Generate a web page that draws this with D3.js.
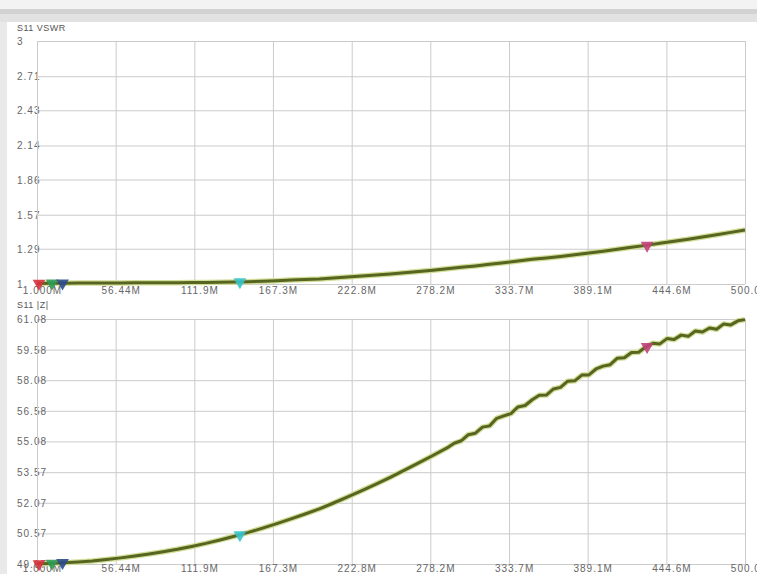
<!DOCTYPE html>
<html><head><meta charset="utf-8">
<script src="https://cdn.jsdelivr.net/npm/d3@7"></script>
<style>
body{margin:0;background:#fff;}
svg{display:block;font-family:"Liberation Sans",Arial,sans-serif;}
.tick text{fill:#666;font-size:10px;letter-spacing:1px;}
.tick line{stroke:#cbcbcb;}
</style></head><body>
<svg id="c" width="757" height="574"></svg>
<script>
// ---- data ----
const xTickVals = [1, 56.44, 111.9, 167.3, 222.8, 278.2, 333.7, 389.1, 444.6, 500];
const xTickLabels = ["1.000M","56.44M","111.9M","167.3M","222.8M","278.2M","333.7M","389.1M","444.6M","500.0M"];
const vswrTicks = [3, 2.71, 2.43, 2.14, 1.86, 1.57, 1.29, 1.0];
const vswrTickLabels = ["3","2.71","2.43","2.14","1.86","1.57","1.29","1"];
const zTicks = [61.08, 59.58, 58.08, 56.58, 55.08, 53.57, 52.07, 50.57, 49.07];
const zTickLabels = ["61.08","59.58","58.08","56.58","55.08","53.57","52.07","50.57","49.07"];

const vswrFreq = [1,10,20,30,40,50,60,70,80,90,100,110,120,130,140,150,160,170,180,190,200,210,220,230,240,250,260,270,280,290,300,310,320,330,340,350,360,370,380,390,400,410,420,430,440,450,460,470,480,490,500];
const vswrVals = [1.005,1.006,1.007,1.008,1.008,1.009,1.009,1.010,1.010,1.010,1.011,1.012,1.013,1.014,1.016,1.018,1.022,1.027,1.032,1.037,1.042,1.050,1.057,1.065,1.074,1.083,1.093,1.103,1.114,1.125,1.137,1.149,1.162,1.175,1.189,1.203,1.214,1.226,1.240,1.255,1.270,1.286,1.302,1.318,1.335,1.352,1.369,1.387,1.405,1.425,1.445];

const zFreq = [1,10,20,30,40,50,60,70,80,90,100,110,120,130,140,150,160,170,180,190,200,210,220,230,240,250,260,270,280,290,295,300,305,310,315,320,325,330,335,340,345,350,355,360,365,370,375,380,385,390,395,400,405,410,415,420,425,430,435,440,445,450,455,460,465,470,475,480,485,490,495,500];
const zVals = [49.08,49.10,49.13,49.17,49.22,49.29,49.37,49.46,49.56,49.67,49.79,49.93,50.08,50.25,50.43,50.62,50.83,51.05,51.28,51.52,51.77,52.06,52.36,52.67,52.99,53.32,53.67,54.03,54.39,54.76,54.99,55.11,55.41,55.48,55.78,55.84,56.21,56.33,56.44,56.77,56.84,57.12,57.34,57.35,57.65,57.73,58.03,58.05,58.33,58.34,58.63,58.77,58.84,59.16,59.18,59.44,59.45,59.71,59.89,59.86,60.12,60.07,60.29,60.23,60.49,60.44,60.64,60.58,60.84,60.79,60.99,61.05];

const markerFreq = [2.4, 11.6, 19, 144, 431];
const markerVswr = [1.005, 1.006, 1.007, 1.017, 1.318];
const markerZ = [49.08, 49.10, 49.13, 50.50, 59.72];
const markerColors = ["#d8303e","#2e9a55","#2b4a8c","#38c4cc","#c2417c"];

// ---- drawing ----
const svg = d3.select("#c");
const W = 757, H = 574;
svg.append("rect").attr("x",0).attr("y",0).attr("width",W).attr("height",9).attr("fill","#f3f3f3");
svg.append("rect").attr("x",0).attr("y",9).attr("width",W).attr("height",5).attr("fill","#d2d2d2");
svg.append("rect").attr("x",0).attr("y",14).attr("width",W).attr("height",8).attr("fill","#e2e2e2");
svg.append("rect").attr("x",0).attr("y",22).attr("width",7).attr("height",H-22).attr("fill","#e9e9e9");

const x = d3.scaleLinear().domain([1,500]).range([37,745]);
const yTop = d3.scaleLinear().domain([1,3]).range([284,41]);
const yBot = d3.scaleLinear().domain([49.07,61.08]).range([564,319]);

function panel(y, ticks, labels, freq, vals, mVals, title, titleY, xLabelPad){
  const r = y.range();
  const h = r[0]-r[1];
  const ya = d3.axisLeft(y).tickValues(ticks).tickSize(-(x.range()[1]-x.range()[0]))
    .tickFormat((d,i)=>labels[i]);
  const gy = svg.append("g").attr("transform",`translate(${x.range()[0]},0)`).call(ya);
  gy.select(".domain").remove();
  gy.selectAll(".tick text").attr("x",-20).attr("text-anchor","start").attr("dy","0.35em");
  const xa = d3.axisBottom(x).tickValues(xTickVals).tickSize(-h).tickPadding(xLabelPad)
    .tickFormat((d,i)=>xTickLabels[i]);
  const gx = svg.append("g").attr("transform",`translate(0,${r[0]})`).call(xa);
  gx.select(".domain").remove();
  gx.selectAll(".tick text").attr("dx",5);
  svg.append("text").attr("x",17).attr("y",titleY).attr("dy","0.35em")
    .attr("fill","#555").attr("font-size",9).attr("letter-spacing","0.5px").text(title);
  const pts = freq.map((f,i)=>[x(f), y(vals[i])]);
  const line = d3.line().curve(d3.curveLinear);
  svg.append("path").attr("d",line(pts)).attr("fill","none").attr("stroke","#d3dd98").attr("stroke-width",5.5).attr("stroke-linejoin","round");
  svg.append("path").attr("d",line(pts)).attr("fill","none").attr("stroke","#56651f").attr("stroke-width",3).attr("stroke-linejoin","round");
  const sym = d3.symbol().type(d3.symbolTriangle).size(70);
  svg.append("g").selectAll("path").data(markerFreq).join("path")
    .attr("d",sym)
    .attr("transform",(f,i)=>`translate(${x(f)},${y(mVals[i])}) rotate(180)`)
    .attr("fill",(f,i)=>markerColors[i]).attr("opacity",0.9);
}
panel(yTop, vswrTicks, vswrTickLabels, vswrFreq, vswrVals, markerVswr, "S11 VSWR", 28, 3);
panel(yBot, zTicks, zTickLabels, zFreq, zVals, markerZ, "S11 |Z|", 305, 1);
</script></body></html>
